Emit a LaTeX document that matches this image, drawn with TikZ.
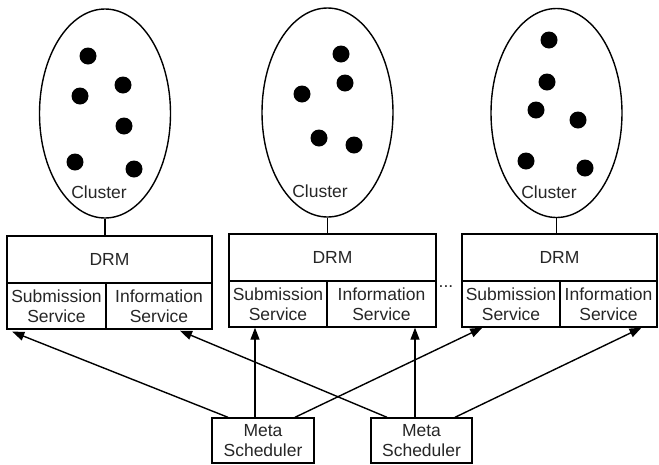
\documentclass[tikz,border=0pt]{standalone}
\usepackage{fontspec}
\setmainfont{Liberation Sans}
\usetikzlibrary{arrows.meta}
\usetikzlibrary{shapes.geometric}
\usetikzlibrary{calc}

\begin{document}
\begin{tikzpicture}[x=1pt,y=-1pt,line width=1.4pt,
    every node/.style={font=\fontsize{17.5}{20.5}\selectfont,text=black!85},
    cluster/.style={draw,ellipse,inner sep=0pt,minimum width=131pt,minimum height=209pt},
    host/.style={fill=black,circle,inner sep=0pt,minimum size=17pt},
    drmbox/.style={draw,rectangle,inner sep=0pt,minimum height=47pt},
    cell/.style={draw,rectangle,inner sep=0pt,minimum height=46pt,align=center},
    metabox/.style={draw,rectangle,inner sep=0pt,minimum height=45pt,align=center},
    arr/.style={-{Triangle[length=12pt,width=9pt]}}]
\useasboundingbox (0,0) rectangle (659,464);

\node[cluster] (cl1) at (105,113.5) {};
\node[cluster] (cl2) at (327.5,112.5) {};
\node[cluster] (cl3) at (556.5,113) {};
\node (lab1) at (99,192) {Cluster};
\node (lab2) at (320,191) {Cluster};
\node (lab3) at (549,192) {Cluster};

\foreach \n/\x/\y in {a/88/56,b/123/85,c/80/96,d/124/126,e/75/162,f/134/169}
  \node[host] (h1\n) at (\x,\y) {};
\foreach \n/\x/\y in {a/341/54,b/345/83,c/302/94,d/319/138,e/354/145}
  \node[host] (h2\n) at (\x,\y) {};
\foreach \n/\x/\y in {a/549/40,b/547/82,c/536/110,d/578/120,e/526/161,f/585/168}
  \node[host] (h3\n) at (\x,\y) {};

\node[drmbox,minimum width=205pt] (drm1) at (109.5,259.5) {DRM};
\node[cell,minimum width=99pt] (sub1) at (56.5,306) {Submission\\Service};
\node[cell,minimum width=106pt] (info1) at (159,306) {Information\\Service};

\node[drmbox,minimum width=207pt] (drm2) at (332.5,257.5) {DRM};
\node[cell,minimum width=98pt] (sub2) at (278,304) {Submission\\Service};
\node[cell,minimum width=109pt] (info2) at (381.5,304) {Information\\Service};

\node[drmbox,minimum width=195pt] (drm3) at (559.5,257.5) {DRM};
\node[cell,minimum width=98pt] (sub3) at (511,304) {Submission\\Service};
\node[cell,minimum width=97pt] (info3) at (608.5,304) {Information\\Service};

\node[anchor=base] (more) at (446,287) {...};

\draw (cl1.south) -- (cl1.south |- drm1.north);
\draw (cl2.south) -- (cl2.south |- drm2.north);
\draw (cl3.south) -- (cl3.south |- drm3.north);

\node[metabox,minimum width=102pt] (ms1) at (263,440.5) {Meta\\Scheduler};
\node[metabox,minimum width=101pt] (ms2) at (421.5,440.5) {Meta\\Scheduler};

\draw[arr] ([xshift=-35pt]ms1.north) -- ([xshift=6pt,yshift=-2pt]sub1.south west);
\draw[arr] ([xshift=-8pt]ms1.north) -- ([xshift=-8pt]ms1.north |- sub2.south);
\draw[arr] ([xshift=32pt]ms1.north) -- ([xshift=21pt]sub3.south west);
\draw[arr] ([xshift=-34.5pt]ms2.north) -- ([xshift=21pt,yshift=-1pt]info1.south);
\draw[arr] ([xshift=-6.5pt]ms2.north) -- ([xshift=-6.5pt]ms2.north |- info2.south);
\draw[arr] ([xshift=33.5pt]ms2.north) -- ([xshift=33pt]info3.south);
\end{tikzpicture}
\end{document}
